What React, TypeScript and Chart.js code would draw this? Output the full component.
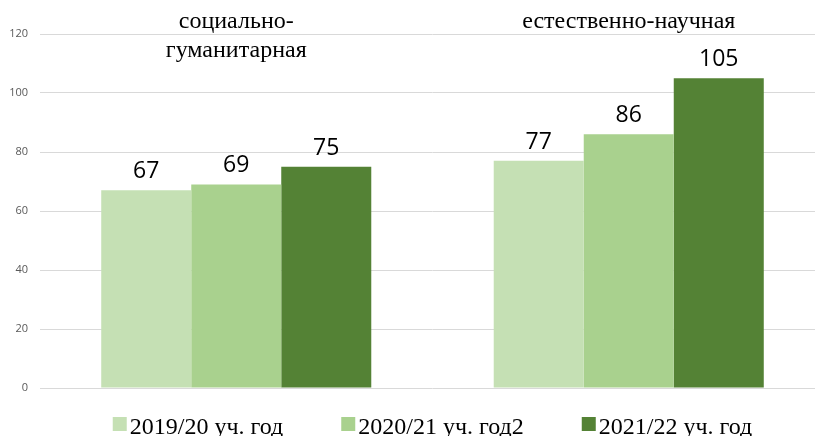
import React, { useEffect, useRef } from "react";
import { Chart, registerables } from "chart.js";

Chart.register(...registerables);

const categories: string[][] = [["социально-", "гуманитарная"], ["естественно-научная"]];
const seriesLabels = ["2019/20 уч. год", "2020/21 уч. год2", "2021/22 уч. год"];
const series2019 = [67, 77];
const series2020 = [69, 86];
const series2021 = [75, 105];
const seriesColors = ["#c5e0b4", "#a9d18e", "#548235"];
const yTicks = [0, 20, 40, 60, 80, 100, 120];

const SERIF = "'Liberation Serif', 'Times New Roman', serif";
const SANS = "'Open Sans', 'Liberation Sans', sans-serif";

const labelsPlugin = {
  id: "customLabels",
  afterDatasetsDraw(chart: any) {
    const ctx = chart.ctx;
    const area = chart.chartArea;
    ctx.save();
    // data labels
    ctx.font = `23px ${SANS}`;
    ctx.fillStyle = "#000000";
    ctx.textAlign = "center";
    ctx.textBaseline = "alphabetic";
    chart.data.datasets.forEach((ds: any, di: number) => {
      const meta = chart.getDatasetMeta(di);
      meta.data.forEach((bar: any, i: number) => {
        ctx.fillText(String(ds.data[i]), bar.x, bar.y - 12);
      });
    });
    // category labels at top
    const xs = chart.scales.x;
    ctx.font = `24px ${SERIF}`;
    categories.forEach((lines, i) => {
      const cx = xs.getPixelForValue(i);
      lines.forEach((ln, li) => {
        ctx.fillText(ln, cx, area.top - 6 + li * 29);
      });
    });
    // legend
    const box = 14;
    const boxGap = 3;
    const itemGap = 58;
    ctx.font = `24px ${SERIF}`;
    const widths = seriesLabels.map((t) => ctx.measureText(t).width);
    const total = widths.reduce((a, w) => a + box + boxGap + w, 0) + itemGap * (seriesLabels.length - 1);
    let x = (area.left + area.right) / 2 - total / 2;
    const baseY = 434;
    ctx.textAlign = "left";
    seriesLabels.forEach((t, i) => {
      ctx.fillStyle = seriesColors[i];
      ctx.fillRect(x, 417, box, box);
      ctx.fillStyle = "#000000";
      ctx.fillText(t, x + box + boxGap, baseY);
      x += box + boxGap + widths[i] + itemGap;
    });
    ctx.restore();
  },
};

export default function App() {
  const ref = useRef<HTMLCanvasElement | null>(null);
  useEffect(() => {
    if (!ref.current) return;
    const chart = new Chart(ref.current, {
      type: "bar",
      data: {
        labels: categories.map((c) => c.join(" ")),
        datasets: [
          { label: seriesLabels[0], data: series2019, backgroundColor: seriesColors[0] },
          { label: seriesLabels[1], data: series2020, backgroundColor: seriesColors[1] },
          { label: seriesLabels[2], data: series2021, backgroundColor: seriesColors[2] },
        ],
      },
      options: {
        responsive: false,
        animation: false,
        events: [],
        layout: { padding: { top: 34, bottom: 48, left: 0, right: 1 } },
        datasets: { bar: { categoryPercentage: 0.688, barPercentage: 1 } },
        plugins: { legend: { display: false }, tooltip: { enabled: false } },
        scales: {
          x: { display: false },
          y: {
            min: 0,
            max: 120,
            afterBuildTicks: (s: any) => {
              s.ticks = yTicks.map((v) => ({ value: v }));
            },
            afterFit: (s: any) => {
              s.width = 40;
            },
            border: { display: false },
            grid: { color: "#d9d9d9", lineWidth: 1, drawTicks: false },
            ticks: { padding: 12, color: "#595959", font: { size: 11, family: SANS } },
          },
        },
      },
      plugins: [labelsPlugin],
    });
    return () => chart.destroy();
  }, []);
  return (
    <div style={{ position: "absolute", left: 0, top: 0, width: 815, height: 436, overflow: "hidden", background: "#fff" }}>
      <canvas ref={ref} width={826} height={436} style={{ display: "block" }} />
    </div>
  );
}
